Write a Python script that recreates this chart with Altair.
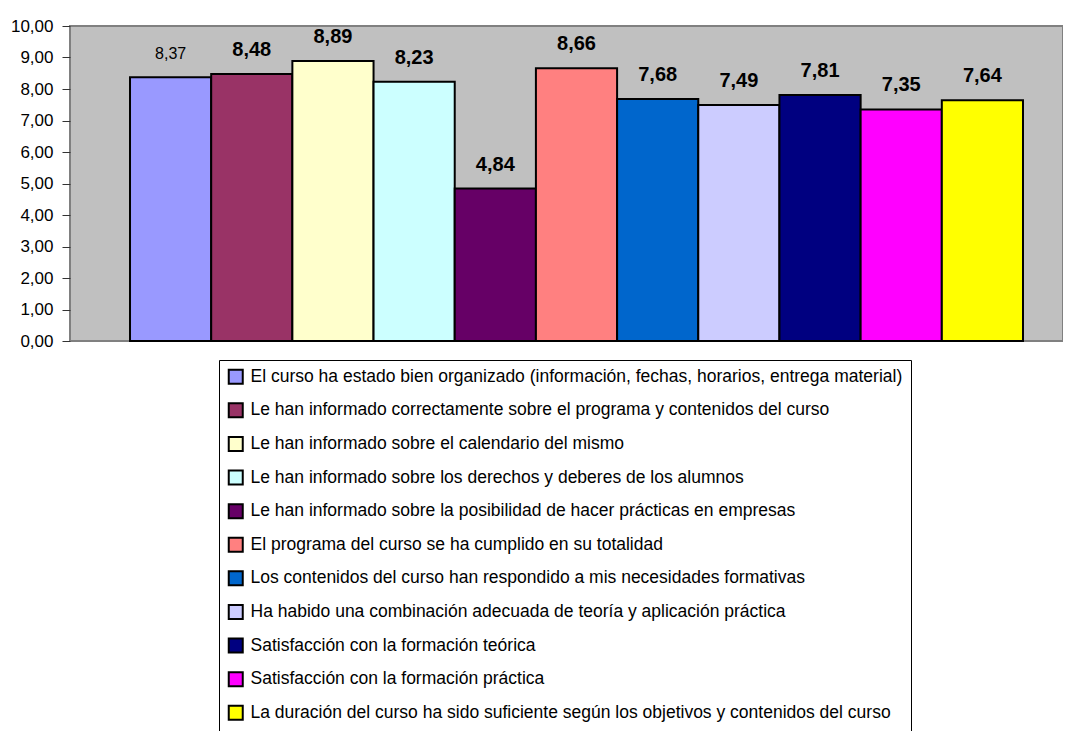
import altair as alt
import pandas as pd

categories = [
    "El curso ha estado bien organizado (información, fechas, horarios, entrega material)",
    "Le han informado correctamente sobre el programa y contenidos del curso",
    "Le han informado sobre el calendario del mismo",
    "Le han informado sobre los derechos y deberes de los alumnos",
    "Le han informado sobre la posibilidad de hacer prácticas en empresas",
    "El programa del curso se ha cumplido en su totalidad",
    "Los contenidos del curso han respondido a mis necesidades formativas",
    "Ha habido una combinación adecuada de teoría y aplicación práctica",
    "Satisfacción con la formación teórica",
    "Satisfacción con la formación práctica",
    "La duración del curso ha sido suficiente según los objetivos y contenidos del curso",
]
values = [8.37, 8.48, 8.89, 8.23, 4.84, 8.66, 7.68, 7.49, 7.81, 7.35, 7.64]
colors = ["#9999FF", "#993366", "#FFFFCC", "#CCFFFF", "#660066", "#FF8080",
          "#0066CC", "#CCCCFF", "#000080", "#FF00FF", "#FFFF00"]
y_ticks = [0, 1, 2, 3, 4, 5, 6, 7, 8, 9, 10]

df = pd.DataFrame({"cat": categories, "val": values, "idx": list(range(len(values)))})

FONT = "Liberation Sans"

x_enc = alt.X("cat:N", sort=categories,
              scale=alt.Scale(paddingInner=0, paddingOuter=0.616, align=0.6, round=False),
              axis=None)
y_axis = alt.Axis(values=y_ticks, grid=False, domain=False, title=None,
                  tickSize=8, tickColor="#333333", tickWidth=1,
                  labelOverlap=False, labelFlush=False,
                  labelPadding=9, labelFontSize=17, labelFont=FONT,
                  labelColor="black",
                  labelExpr="replace(format(datum.value, '.2f'), '.', ',')")
y_enc = alt.Y("val:Q",
              scale=alt.Scale(domain=[0, 10], nice=False, zero=True),
              axis=y_axis)

bars = alt.Chart(df).mark_bar(stroke="black", strokeWidth=2).encode(
    x=x_enc,
    y=y_enc,
    color=alt.Color("cat:N",
                    scale=alt.Scale(domain=categories, range=colors),
                    legend=alt.Legend(
                        title=None, orient="none", legendX=149, legendY=334,
                        direction="vertical", columns=1,
                        strokeColor="black", fillColor="white", padding=8,
                        symbolType="square", symbolSize=196,
                        symbolStrokeColor="black", symbolStrokeWidth=2,
                        symbolOpacity=1,
                        labelFont=FONT, labelFontSize=17.5, labelColor="black",
                        labelLimit=1000, labelOffset=6, rowPadding=10.6)),
)

base_text = alt.Chart(df).transform_calculate(
    label="replace(format(datum.val, '.2f'), '.', ',')"
)

text_first = base_text.transform_filter("datum.idx == 0").mark_text(
    font=FONT, fontSize=16, fontWeight="normal", color="black",
    baseline="alphabetic", dy=-18
).encode(x=x_enc, y=y_enc, text="label:N")

text_rest = base_text.transform_filter("datum.idx > 0").mark_text(
    font=FONT, fontSize=20, fontWeight="bold", color="black",
    baseline="alphabetic", dy=-18
).encode(x=x_enc, y=y_enc, text="label:N")

chart = alt.layer(bars, text_first, text_rest).properties(
    width=993, height=315,
    autosize=alt.AutoSizeParams(type="none"),
    padding={"left": 62, "top": 18, "right": 0, "bottom": 395},
    background="white",
).configure_view(
    fill="#C0C0C0", stroke="#808080", strokeWidth=2
)

chart.save("out.html", embed_options={"renderer": "svg", "actions": False})
